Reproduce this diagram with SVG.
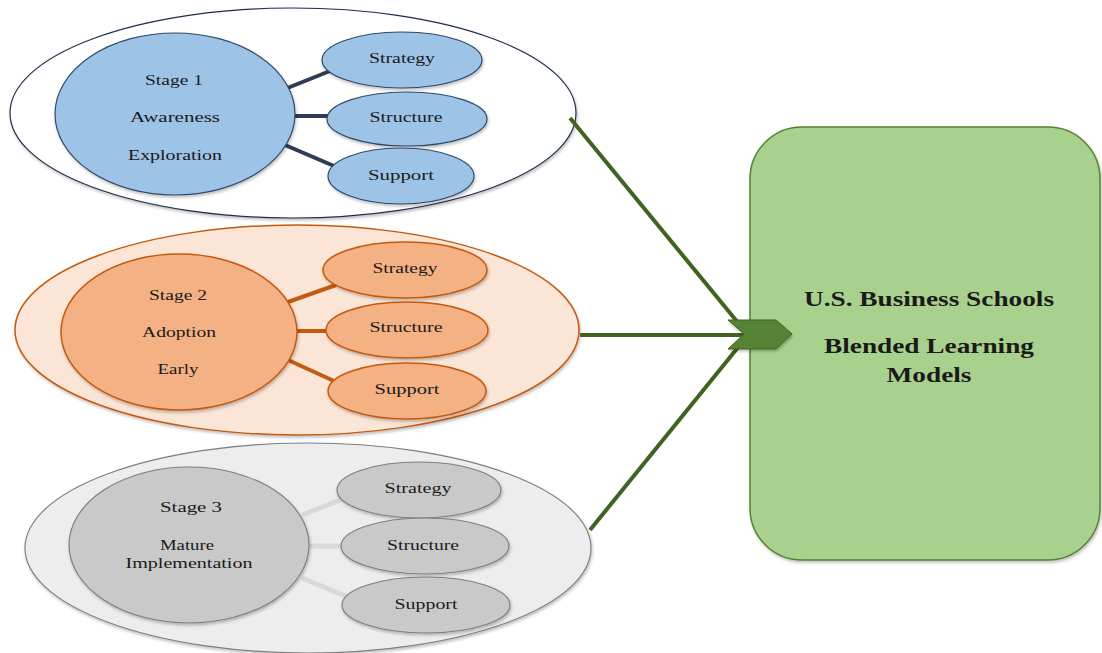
<svg xmlns="http://www.w3.org/2000/svg" width="1102" height="653" viewBox="0 0 1102 653">
<defs>
<filter id="sh" x="-10%" y="-10%" width="120%" height="130%">
<feDropShadow dx="1" dy="2" stdDeviation="1.5" flood-color="#000" flood-opacity="0.25"/>
</filter>
</defs>
<style>
text{font-family:"Liberation Serif","Times New Roman",serif;font-size:15px;fill:#1a1a1a;text-anchor:middle;dominant-baseline:central}
.big{font-size:22px;font-weight:bold}
.o1{fill:#ffffff;stroke:#1f2f4d;stroke-width:1.2}
.o2{fill:#fbe5d6;stroke:#c55a11;stroke-width:1.5}
.o3{fill:#ededed;stroke:#7f7f7f;stroke-width:1.2}
.n1{fill:#9dc3e6;stroke:#2e4a6b;stroke-width:1.2}
.n2{fill:#f4b183;stroke:#c55a11;stroke-width:1.5}
.n3{fill:#c9c9c9;stroke:#7f7f7f;stroke-width:1.2}
.l1{stroke:#2f3d54;stroke-width:4}
.l2{stroke:#c55a11;stroke-width:4}
.l3{stroke:#d9d9d9;stroke-width:5}
.g{stroke:#3f6422;stroke-width:4;fill:none}
</style>
<rect width="1102" height="653" fill="#ffffff"/>

<g id="stage1-group">
<ellipse class="o1" cx="293" cy="113" rx="283" ry="105" filter="url(#sh)"/>
<line class="l1" x1="285" y1="89" x2="330" y2="71"/>
<line class="l1" x1="292" y1="116" x2="328" y2="116"/>
<line class="l1" x1="285" y1="145" x2="334" y2="166"/>
<g id="stage1"><ellipse class="n1" cx="175" cy="114" rx="120" ry="81" filter="url(#sh)"/>
<text x="174" y="80" textLength="58" lengthAdjust="spacingAndGlyphs">Stage 1</text><text x="175" y="117" textLength="90" lengthAdjust="spacingAndGlyphs">Awareness</text><text x="175" y="155" textLength="94" lengthAdjust="spacingAndGlyphs">Exploration</text></g>
<g id="s1-strategy"><ellipse class="n1" cx="402" cy="60" rx="80" ry="28" filter="url(#sh)"/><text x="402" y="58" textLength="66" lengthAdjust="spacingAndGlyphs">Strategy</text></g>
<g id="s1-structure"><ellipse class="n1" cx="407" cy="119" rx="80" ry="27" filter="url(#sh)"/><text x="406" y="117" textLength="73" lengthAdjust="spacingAndGlyphs">Structure</text></g>
<g id="s1-support"><ellipse class="n1" cx="401" cy="176" rx="73" ry="28" filter="url(#sh)"/><text x="401" y="175" textLength="66" lengthAdjust="spacingAndGlyphs">Support</text></g>
</g>

<g id="stage2-group">
<ellipse class="o2" cx="297" cy="330" rx="282" ry="105" filter="url(#sh)"/>
<line class="l2" x1="288" y1="302" x2="336" y2="285"/>
<line class="l2" x1="296" y1="331" x2="328" y2="331"/>
<line class="l2" x1="288" y1="360" x2="334" y2="381"/>
<g id="stage2"><ellipse class="n2" cx="179" cy="332" rx="118" ry="78" filter="url(#sh)"/>
<text x="178" y="295" textLength="58" lengthAdjust="spacingAndGlyphs">Stage 2</text><text x="179" y="332" textLength="74" lengthAdjust="spacingAndGlyphs">Adoption</text><text x="178" y="369" textLength="41" lengthAdjust="spacingAndGlyphs">Early</text></g>
<g id="s2-strategy"><ellipse class="n2" cx="405" cy="270" rx="82" ry="28" filter="url(#sh)"/><text x="405" y="268" textLength="65" lengthAdjust="spacingAndGlyphs">Strategy</text></g>
<g id="s2-structure"><ellipse class="n2" cx="407" cy="330" rx="81" ry="28" filter="url(#sh)"/><text x="406" y="327" textLength="73" lengthAdjust="spacingAndGlyphs">Structure</text></g>
<g id="s2-support"><ellipse class="n2" cx="407" cy="391" rx="79" ry="28" filter="url(#sh)"/><text x="407" y="389" textLength="65" lengthAdjust="spacingAndGlyphs">Support</text></g>
</g>

<g id="stage3-group">
<ellipse class="o3" cx="308" cy="548" rx="283" ry="105" filter="url(#sh)"/>
<line class="l3" x1="302" y1="515" x2="345" y2="498"/>
<line class="l3" x1="309" y1="546" x2="342" y2="546"/>
<line class="l3" x1="302" y1="578" x2="348" y2="597"/>
<g id="stage3"><ellipse class="n3" cx="189" cy="545" rx="120" ry="78" filter="url(#sh)"/>
<text x="191" y="507" textLength="62" lengthAdjust="spacingAndGlyphs">Stage 3</text><text x="187" y="545" textLength="54" lengthAdjust="spacingAndGlyphs">Mature</text><text x="189" y="563" textLength="127" lengthAdjust="spacingAndGlyphs">Implementation</text></g>
<g id="s3-strategy"><ellipse class="n3" cx="419" cy="490" rx="82" ry="28" filter="url(#sh)"/><text x="418" y="488" textLength="67" lengthAdjust="spacingAndGlyphs">Strategy</text></g>
<g id="s3-structure"><ellipse class="n3" cx="425" cy="546" rx="84" ry="28" filter="url(#sh)"/><text x="423" y="545" textLength="72" lengthAdjust="spacingAndGlyphs">Structure</text></g>
<g id="s3-support"><ellipse class="n3" cx="426" cy="605" rx="84" ry="28" filter="url(#sh)"/><text x="426" y="604" textLength="63" lengthAdjust="spacingAndGlyphs">Support</text></g>
</g>

<g id="target">
<rect x="750" y="127" width="350" height="433" rx="52" ry="52" fill="#a9d18e" stroke="#548235" stroke-width="1.5" filter="url(#sh)"/>
<text class="big" x="929" y="298" textLength="250" lengthAdjust="spacingAndGlyphs">U.S. Business Schools</text>
<text class="big" x="929" y="345" textLength="210" lengthAdjust="spacingAndGlyphs">Blended Learning</text>
<text class="big" x="929" y="374" textLength="85" lengthAdjust="spacingAndGlyphs">Models</text>
</g>

<g id="connectors">
<line class="g" x1="570" y1="118" x2="744" y2="330"/>
<line class="g" x1="580" y1="335" x2="744" y2="335"/>
<line class="g" x1="590" y1="530" x2="744" y2="340"/>
<polygon points="728,320 776,320 792,334 776,349 728,349 744,334" fill="#548235" stroke="#3f6422" stroke-width="1" filter="url(#sh)"/>
</g>
</svg>
